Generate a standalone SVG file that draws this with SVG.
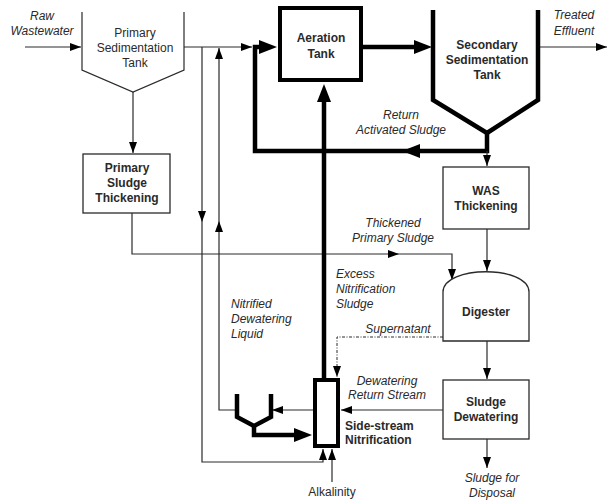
<svg xmlns="http://www.w3.org/2000/svg" xmlns:xlink="http://www.w3.org/1999/xlink" width="608" height="502" viewBox="0 0 608 502">
<style>
text{font-family:"Liberation Sans",Arial,sans-serif;font-size:12px;fill:#2a2a2a;text-anchor:middle}
.b{font-weight:bold}
.i{font-style:italic}
.l{text-anchor:start}
.thin{fill:none;stroke:#2a2a2a;stroke-width:1.2}
.thick{fill:none;stroke:#000;stroke-width:4.5}
.box{fill:#fff;stroke:#2a2a2a;stroke-width:1.3}
.tbox{fill:#fff;stroke:#000;stroke-width:4}
.dash{fill:none;stroke:#2a2a2a;stroke-width:1;stroke-dasharray:3 1.5 1 1.5}
</style>
<defs>
<marker id="a" viewBox="0 0 11 8" refX="11" refY="4" markerWidth="11" markerHeight="8" markerUnits="userSpaceOnUse" orient="auto"><path d="M0,0 L11,4 L0,8 z" fill="#000"/></marker>
<marker id="A" viewBox="0 0 18 14" refX="8" refY="7" markerWidth="18" markerHeight="14" markerUnits="userSpaceOnUse" orient="auto"><path d="M0,0 L18,7 L0,14 z" fill="#000"/></marker>
<path id="ah" d="M0,0 L-11,-4 L-11,4 z" fill="#000"/>
<path id="AH" d="M0,0 L-18,-7 L-18,7 z" fill="#000"/>
</defs>

<g id="connectors">
<path class="thin" d="M25,47 H81" marker-end="url(#a)"/>
<path class="thin" d="M184,47 H252" marker-end="url(#a)"/>
<path class="thin" d="M133,92 V153" marker-end="url(#a)"/>
<path class="thin" d="M202,47 V462 H323 V449" marker-end="url(#a)"/>
<use xlink:href="#ah" href="#ah" transform="translate(202,222) rotate(90)"/>
<path class="thin" d="M236,410 H219 V48" marker-end="url(#a)"/>
<use xlink:href="#ah" href="#ah" transform="translate(219,221) rotate(-90)"/>
<path class="thick" d="M487,133 V151 H255 V47 H267" marker-end="url(#A)"/>
<use xlink:href="#AH" href="#AH" transform="translate(402,151) rotate(180)"/>
<path class="thick" d="M363,47 H422" marker-end="url(#A)"/>
<path class="thin" d="M538,47 H607" marker-end="url(#a)"/>
<path class="thin" d="M487,151 V166" marker-end="url(#a)"/>
<path class="thin" d="M487,229 V271" marker-end="url(#a)"/>
<path class="thin" d="M132,213 V254 H452 V280" marker-end="url(#a)"/>
<use xlink:href="#ah" href="#ah" transform="translate(399,254)"/>
<path class="thick" d="M324,378 V94" marker-end="url(#A)"/>
<path class="dash" d="M443,337 H337 V377" marker-end="url(#a)"/>
<path class="thin" d="M443,410 H341" marker-end="url(#a)"/>
<path class="thin" d="M313,410 H272" marker-end="url(#a)"/>
<path class="thick" d="M254,426 V435 H302" marker-end="url(#A)"/>
<path class="thin" d="M332,482 V449" marker-end="url(#a)"/>
<path class="thin" d="M487,341 V379" marker-end="url(#a)"/>
<path class="thin" d="M487,439 V468" marker-end="url(#a)"/>
</g>

<g id="raw-wastewater">
<text class="i" x="42" y="20">Raw</text>
<text class="i" x="42" y="35">Wastewater</text>
</g>

<g id="primary-sedimentation">
<path class="thin" d="M82,12 V70 L133,92 L184,70 V12"/>
<text x="135" y="37">Primary</text>
<text x="135" y="52">Sedimentation</text>
<text x="135" y="67">Tank</text>
</g>

<g id="aeration-tank">
<rect class="tbox" x="280" y="8" width="81" height="72"/>
<text class="b" x="321" y="42">Aeration</text>
<text class="b" x="321" y="58">Tank</text>
</g>

<g id="secondary-sedimentation">
<path class="thick" d="M433,10 V100 L487,133 L538,100 V10"/>
<text class="b" x="487" y="49">Secondary</text>
<text class="b" x="487" y="64">Sedimentation</text>
<text class="b" x="487" y="79">Tank</text>
</g>

<g id="treated-effluent">
<text class="i" x="574" y="19">Treated</text>
<text class="i" x="574" y="35">Effluent</text>
</g>

<g id="ras-label">
<text class="i" x="401" y="119">Return</text>
<text class="i" x="401" y="134">Activated Sludge</text>
</g>

<g id="primary-sludge-thickening">
<rect class="box" x="83" y="154" width="87" height="59"/>
<text class="b" x="127" y="172">Primary</text>
<text class="b" x="127" y="187">Sludge</text>
<text class="b" x="127" y="202">Thickening</text>
</g>

<g id="was-thickening">
<rect class="box" x="443" y="167" width="86" height="62"/>
<text class="b" x="486" y="195">WAS</text>
<text class="b" x="486" y="210">Thickening</text>
</g>

<g id="thickened-label">
<text class="i" x="393" y="227">Thickened</text>
<text class="i" x="393" y="242">Primary Sludge</text>
</g>

<g id="digester">
<path class="box" d="M443,341 V292 C443,265 529,265 529,292 V341 Z"/>
<text class="b" x="486" y="316">Digester</text>
</g>

<g id="excess-label">
<text class="i l" x="336" y="278">Excess</text>
<text class="i l" x="336" y="293">Nitrification</text>
<text class="i l" x="336" y="308">Sludge</text>
</g>

<g id="nitrified-label">
<text class="i l" x="231" y="308">Nitrified</text>
<text class="i l" x="231" y="323">Dewatering</text>
<text class="i l" x="231" y="338">Liquid</text>
</g>

<g id="supernatant-label">
<text class="i" x="398" y="333">Supernatant</text>
</g>

<g id="dewatering-return-label">
<text class="i" x="387" y="385">Dewatering</text>
<text class="i" x="387" y="399">Return Stream</text>
</g>

<g id="mini-clarifier">
<path class="thick" d="M237,394 V417 L254,426 L271,417 V394"/>
</g>

<g id="side-stream-nitrification">
<rect class="tbox" x="315" y="380" width="23" height="66"/>
<text class="b l" x="345" y="430">Side-stream</text>
<text class="b l" x="345" y="444">Nitrification</text>
</g>

<g id="sludge-dewatering">
<rect class="box" x="443" y="380" width="86" height="59"/>
<text class="b" x="486" y="406">Sludge</text>
<text class="b" x="486" y="421">Dewatering</text>
</g>

<g id="sludge-disposal">
<text class="i" x="492" y="482">Sludge for</text>
<text class="i" x="492" y="497">Disposal</text>
</g>

<g id="alkalinity">
<text x="332" y="496">Alkalinity</text>
</g>
</svg>
